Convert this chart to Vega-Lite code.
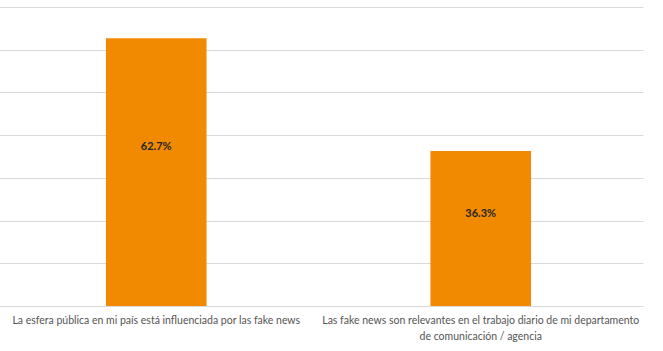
{
  "$schema": "https://vega.github.io/schema/vega-lite/v6.json",
  "width": 643,
  "height": 299,
  "autosize": "none",
  "padding": {"left": 0, "top": 7, "right": 20, "bottom": 45},
  "background": "white",
  "config": {"view": {"stroke": null}, "font": "Lato"},
  "data": {
    "values": [
      {"statement": "La esfera pública en mi país está influenciada por las fake news", "pct": 62.7},
      {"statement": "Las fake news son relevantes en el trabajo diario de mi departamento de comunicación / agencia", "pct": 36.3}
    ]
  },
  "encoding": {
    "x": {
      "field": "statement",
      "type": "nominal",
      "sort": null,
      "scale": {"range": [-6, 643], "paddingInner": 0, "paddingOuter": 0},
      "axis": {
        "title": null,
        "labelAngle": 0,
        "domain": false,
        "ticks": false,
        "labelPadding": 9,
        "labelFontSize": 10.5,
        "labelColor": "#555555",
        "labelFont": "Lato",
        "labelLimit": 400,
        "labelLineHeight": 16,
        "labelExpr": "length(datum.label) > 70 ? ['Las fake news son relevantes en el trabajo diario de mi departamento', 'de comunicación / agencia'] : datum.label"
      }
    }
  },
  "layer": [
    {
      "mark": {"type": "bar", "color": "#F18A00", "width": {"band": 0.31}},
      "encoding": {
        "y": {
          "field": "pct",
          "type": "quantitative",
          "scale": {"domain": [0, 70], "nice": false},
          "axis": {
            "title": null,
            "labels": false,
            "ticks": false,
            "domain": false,
            "values": [0, 10, 20, 30, 40, 50, 60, 70],
            "gridColor": "#d9d9d9",
            "gridWidth": 1
          }
        }
      }
    },
    {
      "transform": [
        {"calculate": "datum.pct * 0.595", "as": "labelPos"},
        {"calculate": "format(datum.pct, '.1f') + '%'", "as": "labelText"}
      ],
      "mark": {"type": "text", "fontWeight": "bold", "fontSize": 11, "color": "#262626", "font": "Lato"},
      "encoding": {
        "y": {"field": "labelPos", "type": "quantitative"},
        "text": {"field": "labelText", "type": "nominal"}
      }
    }
  ]
}
